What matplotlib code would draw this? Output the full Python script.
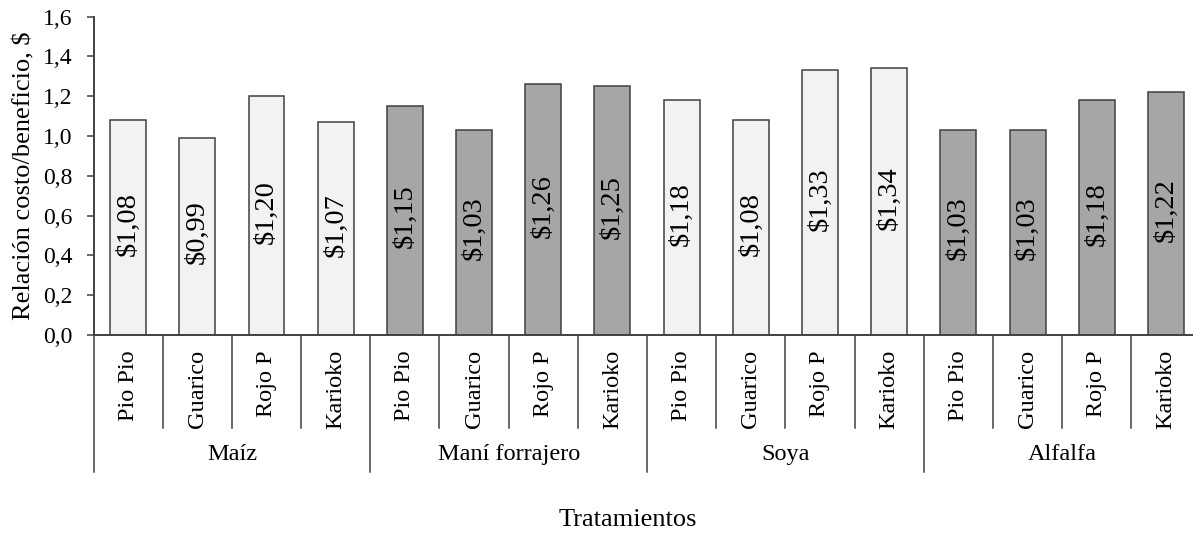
import numpy as np
import matplotlib.pyplot as plt
import matplotlib.transforms as mtransforms

plt.rcParams['font.family'] = ['Liberation Serif', 'DejaVu Serif']

groups = ["Maíz", "Maní forrajero", "Soya", "Alfalfa"]
varieties = ["Pio Pio", "Guarico", "Rojo P", "Karioko"]
values = [1.08, 0.99, 1.20, 1.07,
          1.15, 1.03, 1.26, 1.25,
          1.18, 1.08, 1.33, 1.34,
          1.03, 1.03, 1.18, 1.22]
group_colors = ["#f2f2f2", "#a6a6a6", "#f2f2f2", "#a6a6a6"]

edge = "#404040"
fig = plt.figure(figsize=(11.93, 5.35), dpi=100)
# plot area runs slightly past the right edge of the figure
ax = fig.add_axes([0.0784, 0.3738, 0.9279, 0.5951])

n = len(values)
x = np.arange(n)
colors = [group_colors[i // len(varieties)] for i in range(n)]
ax.bar(x, values, width=0.52, color=colors, edgecolor=edge, linewidth=1.1)

for xi, v in zip(x, values):
    ax.text(xi, v / 2 + 0.02, "$" + f"{v:.2f}".replace(".", ","), rotation=90,
            ha="center", va="center", fontsize=20.5)

ax.set_xlim(-0.5, n - 0.5)
ax.set_ylim(0, 1.6)
yt = np.arange(0, 1.61, 0.2)
ax.set_yticks(yt)
ax.set_yticklabels([f"{t:.1f}".replace(".", ",") for t in yt], fontsize=17)
ax.set_xticks([])
ax.tick_params(axis="y", direction="out", length=4.7, width=1.1, color=edge,
               pad=10.5)
for s in ["top", "right"]:
    ax.spines[s].set_visible(False)
for s in ["left", "bottom"]:
    ax.spines[s].set_color(edge)
    ax.spines[s].set_linewidth(1.4)

ax.set_ylabel("Relación costo/beneficio, $", fontsize=19, labelpad=5)

# two-level category axis below the bars
trans = mtransforms.blended_transform_factory(ax.transData, ax.transAxes)
for i in range(n + 1):
    bottom = -0.429 if i % len(varieties) == 0 else -0.2915
    ax.plot([i - 0.5, i - 0.5], [0, bottom], color=edge, linewidth=1.1,
            transform=trans, clip_on=False)
for xi in x:
    ax.text(xi, -0.047, varieties[xi % len(varieties)], rotation=90,
            ha="center", va="top", fontsize=17.5, transform=trans)
for g, name in enumerate(groups):
    ax.text(g * len(varieties) + 1.5, -0.376, name, ha="center", va="center",
            fontsize=17.5, transform=trans)

fig.text(628 / 1193, 1 - 520 / 535, "Tratamientos",
         ha="center", va="center", fontsize=19)

fig.savefig("out.png", dpi=100)
